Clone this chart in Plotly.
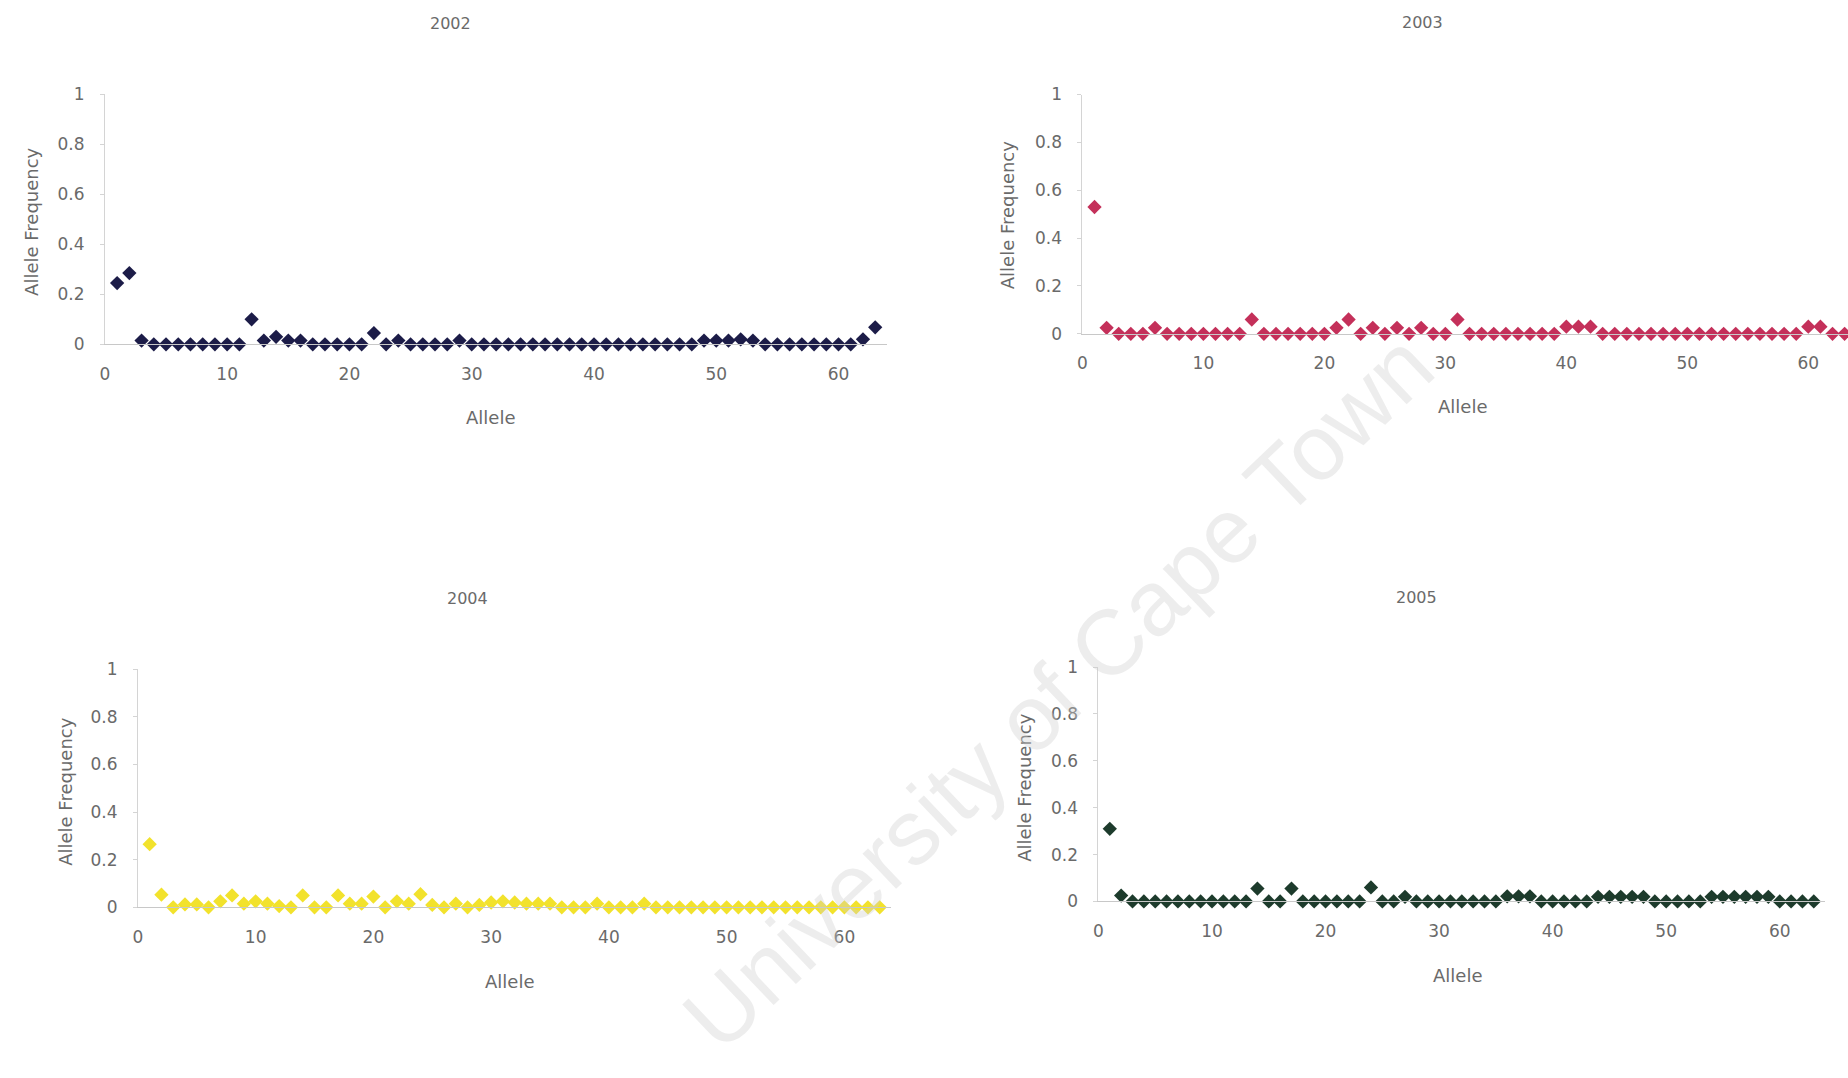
import plotly.graph_objects as go

# Allele numbers (1..63) shared by all four years
alleles = list(range(1, 64))

freq_2002 = [
    0.245, 0.285, 0.015, 0, 0, 0, 0, 0, 0, 0,
    0, 0.100, 0.015, 0.030, 0.015, 0.015, 0, 0, 0, 0,
    0, 0.045, 0, 0.015, 0, 0, 0, 0, 0.015, 0,
    0, 0, 0, 0, 0, 0, 0, 0, 0, 0,
    0, 0, 0, 0, 0, 0, 0, 0, 0.015, 0.015,
    0.015, 0.020, 0.015, 0, 0, 0, 0, 0, 0, 0,
    0, 0.020, 0.068,
]

freq_2003 = [
    0.530, 0.025, 0, 0, 0, 0.025, 0, 0, 0, 0,
    0, 0, 0, 0.060, 0, 0, 0, 0, 0, 0,
    0.025, 0.060, 0, 0.025, 0, 0.025, 0, 0.025, 0, 0,
    0.060, 0, 0, 0, 0, 0, 0, 0, 0, 0.030,
    0.030, 0.030, 0, 0, 0, 0, 0, 0, 0, 0,
    0, 0, 0, 0, 0, 0, 0, 0, 0, 0.030,
    0.030, 0, 0,
]

freq_2004 = [
    0.265, 0.053, 0, 0.012, 0.012, 0, 0.025, 0.050, 0.015, 0.025,
    0.015, 0.005, 0, 0.050, 0, 0, 0.050, 0.015, 0.015, 0.045,
    0, 0.025, 0.015, 0.055, 0.010, 0, 0.015, 0, 0.010, 0.020,
    0.025, 0.020, 0.015, 0.015, 0.015, 0, 0, 0, 0.015, 0,
    0, 0, 0.015, 0, 0, 0, 0, 0, 0, 0,
    0, 0, 0, 0, 0, 0, 0, 0, 0, 0,
    0, 0, 0,
]

freq_2005 = [
    0.310, 0.025, 0, 0, 0, 0, 0, 0, 0, 0,
    0, 0, 0, 0.055, 0, 0, 0.055, 0, 0, 0,
    0, 0, 0, 0.060, 0, 0, 0.020, 0, 0, 0,
    0, 0, 0, 0, 0, 0.022, 0.022, 0.022, 0, 0,
    0, 0, 0, 0.020, 0.020, 0.020, 0.020, 0.020, 0, 0,
    0, 0, 0, 0.020, 0.020, 0.020, 0.020, 0.020, 0.020, 0,
    0, 0, 0,
]

panels = [
    # year, values, colour, x domain, y domain, x range max
    ("2002", freq_2002, "#1c1c48", [0.0542, 0.4788], [0.6840, 0.9202], 64),
    ("2003", freq_2003, "#c4305a", [0.5846, 1.0000], [0.6939, 0.9201], 63.28),
    ("2004", freq_2004, "#f2e22c", [0.0721, 0.4810], [0.1519, 0.3770], 64),
    ("2005", freq_2005, "#1d3b2c", [0.5933, 0.9876], [0.1574, 0.3789], 64),
]

# Panel label positions in paper coordinates: year title, x title, y title
label_pos = [
    ((0.2419, 0.9873), (0.2635, 0.6150), (0.0147, 0.7998)),
    ((0.7689, 0.9882), (0.7906, 0.6252), (0.5444, 0.8063)),
    ((0.2511, 0.4433), (0.2738, 0.0820), (0.0324, 0.2617)),
    ((0.7657, 0.4443), (0.7879, 0.0876), (0.5535, 0.2649)),
]

FONT = "DejaVu Sans, Verdana, sans-serif"
TXT = "#6a6a6a"

fig = go.Figure()
layout = dict(
    width=1848, height=1078,
    margin=dict(l=0, r=0, t=0, b=0),
    paper_bgcolor="white", plot_bgcolor="white",
    showlegend=False,
    font=dict(family=FONT, color=TXT, size=17),
)
annotations = []


def label(text, x, y, size, angle=0):
    return dict(text=text, x=x, y=y, xref="paper", yref="paper",
                xanchor="center", yanchor="middle", showarrow=False,
                textangle=angle, font=dict(size=size, color=TXT, family=FONT))


for i, (year, vals, color, xd, yd, xmax) in enumerate(panels):
    n = i + 1
    xa = "x" if n == 1 else f"x{n}"
    ya = "y" if n == 1 else f"y{n}"
    fig.add_trace(go.Scatter(
        x=alleles, y=vals, mode="markers", xaxis=xa, yaxis=ya,
        marker=dict(symbol="diamond", size=11, color=color, line=dict(width=0)),
        cliponaxis=False, name=year,
    ))
    layout["xaxis" if n == 1 else f"xaxis{n}"] = dict(
        domain=xd, range=[0, xmax], anchor=ya,
        tickvals=[0, 10, 20, 30, 40, 50, 60],
        showgrid=False, zeroline=False,
        showline=True, linecolor="#c8c8c8", linewidth=1,
        ticks="outside", ticklen=0, ticklabelstandoff=14,
        tickfont=dict(size=17, color=TXT, family=FONT),
    )
    layout["yaxis" if n == 1 else f"yaxis{n}"] = dict(
        domain=yd, range=[0, 1], anchor=xa,
        tickvals=[0, 0.2, 0.4, 0.6, 0.8, 1],
        ticktext=["0", "0.2", "0.4", "0.6", "0.8", "1"],
        showgrid=False, zeroline=False,
        showline=True, linecolor="#d4d4d4", linewidth=1,
        ticks="outside", ticklen=4, tickcolor="#d4d4d4",
        ticklabelstandoff=12,
        tickfont=dict(size=17, color=TXT, family=FONT),
    )
    (tx, ty), (axx, axy), (ayx, ayy) = label_pos[i]
    annotations.append(label(year, tx, ty, 16))
    annotations.append(label("Allele", axx, axy, 18))
    annotations.append(label("Allele Frequency", ayx, ayy, 18, -90))

# Institutional watermark across the page
annotations.append(dict(
    text="University of Cape Town", x=0.5715, y=0.356, xref="paper", yref="paper",
    xanchor="center", yanchor="middle", showarrow=False, textangle=-43.5,
    font=dict(size=92, color="rgba(205,205,205,0.36)",
              family="Liberation Sans, Arial, sans-serif"),
))

layout["annotations"] = annotations
fig.update_layout(**layout)
fig.write_html("out.html")
